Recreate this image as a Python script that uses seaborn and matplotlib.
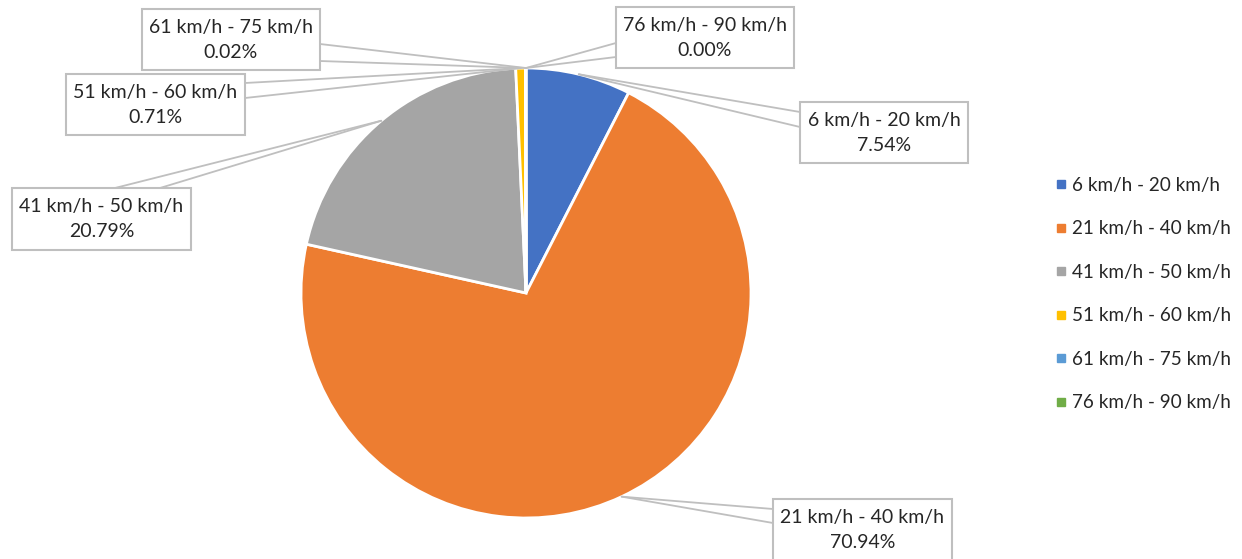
import matplotlib
matplotlib.use('Agg')
import matplotlib.pyplot as plt
from matplotlib.lines import Line2D
from matplotlib.patches import Rectangle
import numpy as np
import seaborn as sns

# data
speed_bins = ['6 km/h - 20 km/h', '21 km/h - 40 km/h', '41 km/h - 50 km/h',
              '51 km/h - 60 km/h', '61 km/h - 75 km/h', '76 km/h - 90 km/h']
shares = [7.54, 70.94, 20.79, 0.71, 0.02, 0.00]
colors = ['#4472C4', '#ED7D31', '#A5A5A5', '#FFC000', '#5B9BD5', '#70AD47']

# label boxes in pixel coords: (x0, y0, x1, y1) and the two pointer base points
boxes = [
    ((800, 102, 968, 163), [(800, 112), (800, 127)]),
    ((773, 499, 952, 562), [(773, 509), (773, 523)]),
    ((12, 188, 191, 250), [(115, 188), (160, 188)]),
    ((66, 74, 245, 135), [(245, 83), (245, 98)]),
    ((142, 9, 320, 70), [(320, 44), (320, 61)]),
    ((616, 7, 794, 68), [(616, 43), (616, 57)]),
]

sns.set_theme(style='white')
plt.rcParams['font.family'] = ['Lato', 'DejaVu Sans']

W, H = 1242, 559
fig = plt.figure(figsize=(W / 100, H / 100), dpi=100)
ax = fig.add_axes([0, 0, 1, 1])

cx, cy, r = 526, 293, 225
wedges, _ = ax.pie(shares, colors=colors, center=(cx, cy), radius=r,
                   startangle=-90, counterclock=True,
                   wedgeprops=dict(edgecolor='white', linewidth=2))
ax.set_xlim(0, W)
ax.set_ylim(H, 0)
ax.set_aspect('auto')
ax.axis('off')

line_col = '#BFBFBF'
for w, (box, bases), lab, val in zip(wedges, boxes, speed_bins, shares):
    mid = np.deg2rad((w.theta1 + w.theta2) / 2)
    ax_, ay_ = cx + r * np.cos(mid), cy + r * np.sin(mid)
    for bx, by in bases:
        ax.plot([bx, ax_], [by, ay_], color=line_col, lw=1.3, zorder=3)
    x0, y0, x1, y1 = box
    ax.add_patch(Rectangle((x0, y0), x1 - x0, y1 - y0, facecolor='white',
                           edgecolor=line_col, lw=1.5, zorder=4))
    ax.text((x0 + x1) / 2, y0 + 31, f'{lab}\n{val:.2f}%', ha='center', va='center',
            fontsize=14, color='#262626', linespacing=1.6, zorder=5)

handles = [Line2D([], [], marker='s', ls='', color=c, markersize=6) for c in colors]
ax.legend(handles, speed_bins, loc='center left', bbox_to_anchor=(1046 / W, 1 - 294 / H),
          frameon=False, fontsize=13.6, handlelength=0.6, handletextpad=0.3,
          labelspacing=1.4, borderpad=0, labelcolor='#262626')

fig.savefig('out.png', dpi=100)
